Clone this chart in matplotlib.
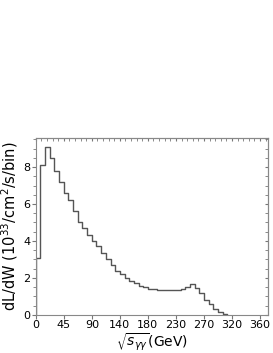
import numpy as np
import matplotlib
matplotlib.use('Agg')
import matplotlib.pyplot as plt
from matplotlib.ticker import MultipleLocator, NullFormatter

# bins of 7.5 GeV, luminosity per bin in 10^33 /cm^2/s
bin_width = 7.5
lumi = [3.1, 8.1, 9.1, 8.5, 7.8, 7.2, 6.6, 6.2, 5.6, 5.0,
        4.7, 4.3, 4.0, 3.7, 3.35, 3.0, 2.7, 2.4, 2.2, 2.0,
        1.85, 1.7, 1.55, 1.5, 1.42, 1.38, 1.37, 1.36, 1.35, 1.35,
        1.37, 1.42, 1.5, 1.65, 1.47, 1.16, 0.82, 0.58, 0.33, 0.15,
        0.05]
xticks = [0, 45, 90, 135, 180, 225, 270, 315, 360]
xticklabels = ['0', '45', '90', '140', '180', '230', '270', '320', '360']
yticks = [0, 2, 4, 6, 8]

edges = np.arange(len(lumi) + 1) * bin_width

fig = plt.figure(figsize=(2.73, 3.53), dpi=100)
ax = fig.add_axes([0.131, 0.108, 0.851, 0.5])

xs = np.concatenate([[0], edges])
ys = np.concatenate([[0], lumi, [0]])
ax.step(xs, ys, where='post', color='#555555', lw=1.0)

ax.set_xlim(0, 373)
ax.set_ylim(0, 9.55)
ax.set_xticks(xticks)
ax.set_xticklabels(xticklabels)
ax.set_yticks(yticks)
ax.yaxis.set_minor_locator(MultipleLocator(0.5))

ax.tick_params(axis='both', which='major', labelsize=8, length=3, color='#777777', pad=1)
ax.tick_params(axis='y', which='minor', length=2, color='#777777')

# inward ticks on the right and top
right = ax.secondary_yaxis('right')
right.set_yticks(yticks)
right.yaxis.set_minor_locator(MultipleLocator(0.5))
right.yaxis.set_major_formatter(NullFormatter())
right.tick_params(which='both', direction='in', length=2.5, color='#777777')
top = ax.secondary_xaxis('top')
top.set_xticks(xticks)
top.xaxis.set_minor_locator(MultipleLocator(9))
top.xaxis.set_major_formatter(NullFormatter())
top.tick_params(which='both', direction='in', length=2, color='#777777')

for a in (ax, right, top):
    for s in a.spines.values():
        s.set_color('#888888')
        s.set_linewidth(0.8)

ax.set_ylabel('dL/dW (10$^{33}$/cm$^2$/s/bin)', fontsize=10.5, labelpad=2)
ax.set_xlabel(r'$\sqrt{s_{\gamma\gamma}}$(GeV)', fontsize=10, labelpad=1)

fig.savefig('out.png', dpi=100)
